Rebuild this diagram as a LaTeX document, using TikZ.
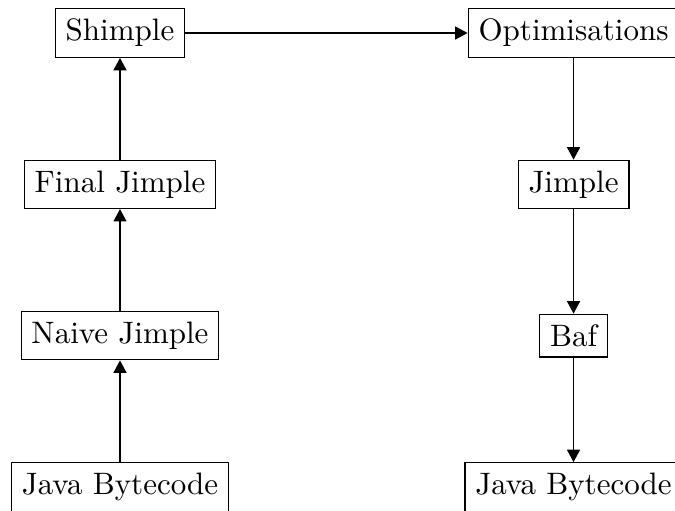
\documentclass[tikz,border=0pt]{standalone}
\usepackage{tikz}
\usetikzlibrary{arrows.meta, positioning}

\begin{document}
\begin{tikzpicture}[
          node distance=1.715cm, on grid,
          stage/.style={
            rectangle, draw=black, line width=0.4pt
          },
          flow/.style={
            -{Triangle[length=4pt, width=4.2pt]}, line width=0.4pt
          }
        ]
          \useasboundingbox (-1.36,0.374) rectangle (6.29,-5.41);

          % front end, read bottom to top
          \node[stage] (shimple) at (0,0) {Shimple};
          \node[stage, below=of shimple] (finaljimple) {Final Jimple};
          \node[stage, below=of finaljimple] (naivejimple) {Naive Jimple};
          \node[stage, below=of naivejimple] (bytecodein) {Java Bytecode};

          % back end, read top to bottom
          \node[stage, right=5.14cm of shimple] (optim) {Optimisations};
          \node[stage, below=of optim] (jimple) {Jimple};
          \node[stage, below=of jimple] (baf) {Baf};
          \node[stage, below=of baf] (bytecodeout) {Java Bytecode};

          \draw[flow] (bytecodein)  -- (naivejimple);
          \draw[flow] (naivejimple) -- (finaljimple);
          \draw[flow] (finaljimple) -- (shimple);
          \draw[flow] (shimple)     -- (optim);
          \draw[flow] (optim)       -- (jimple);
          \draw[flow] (jimple)      -- (baf);
          \draw[flow] (baf)         -- (bytecodeout);
        \end{tikzpicture}
\end{document}
